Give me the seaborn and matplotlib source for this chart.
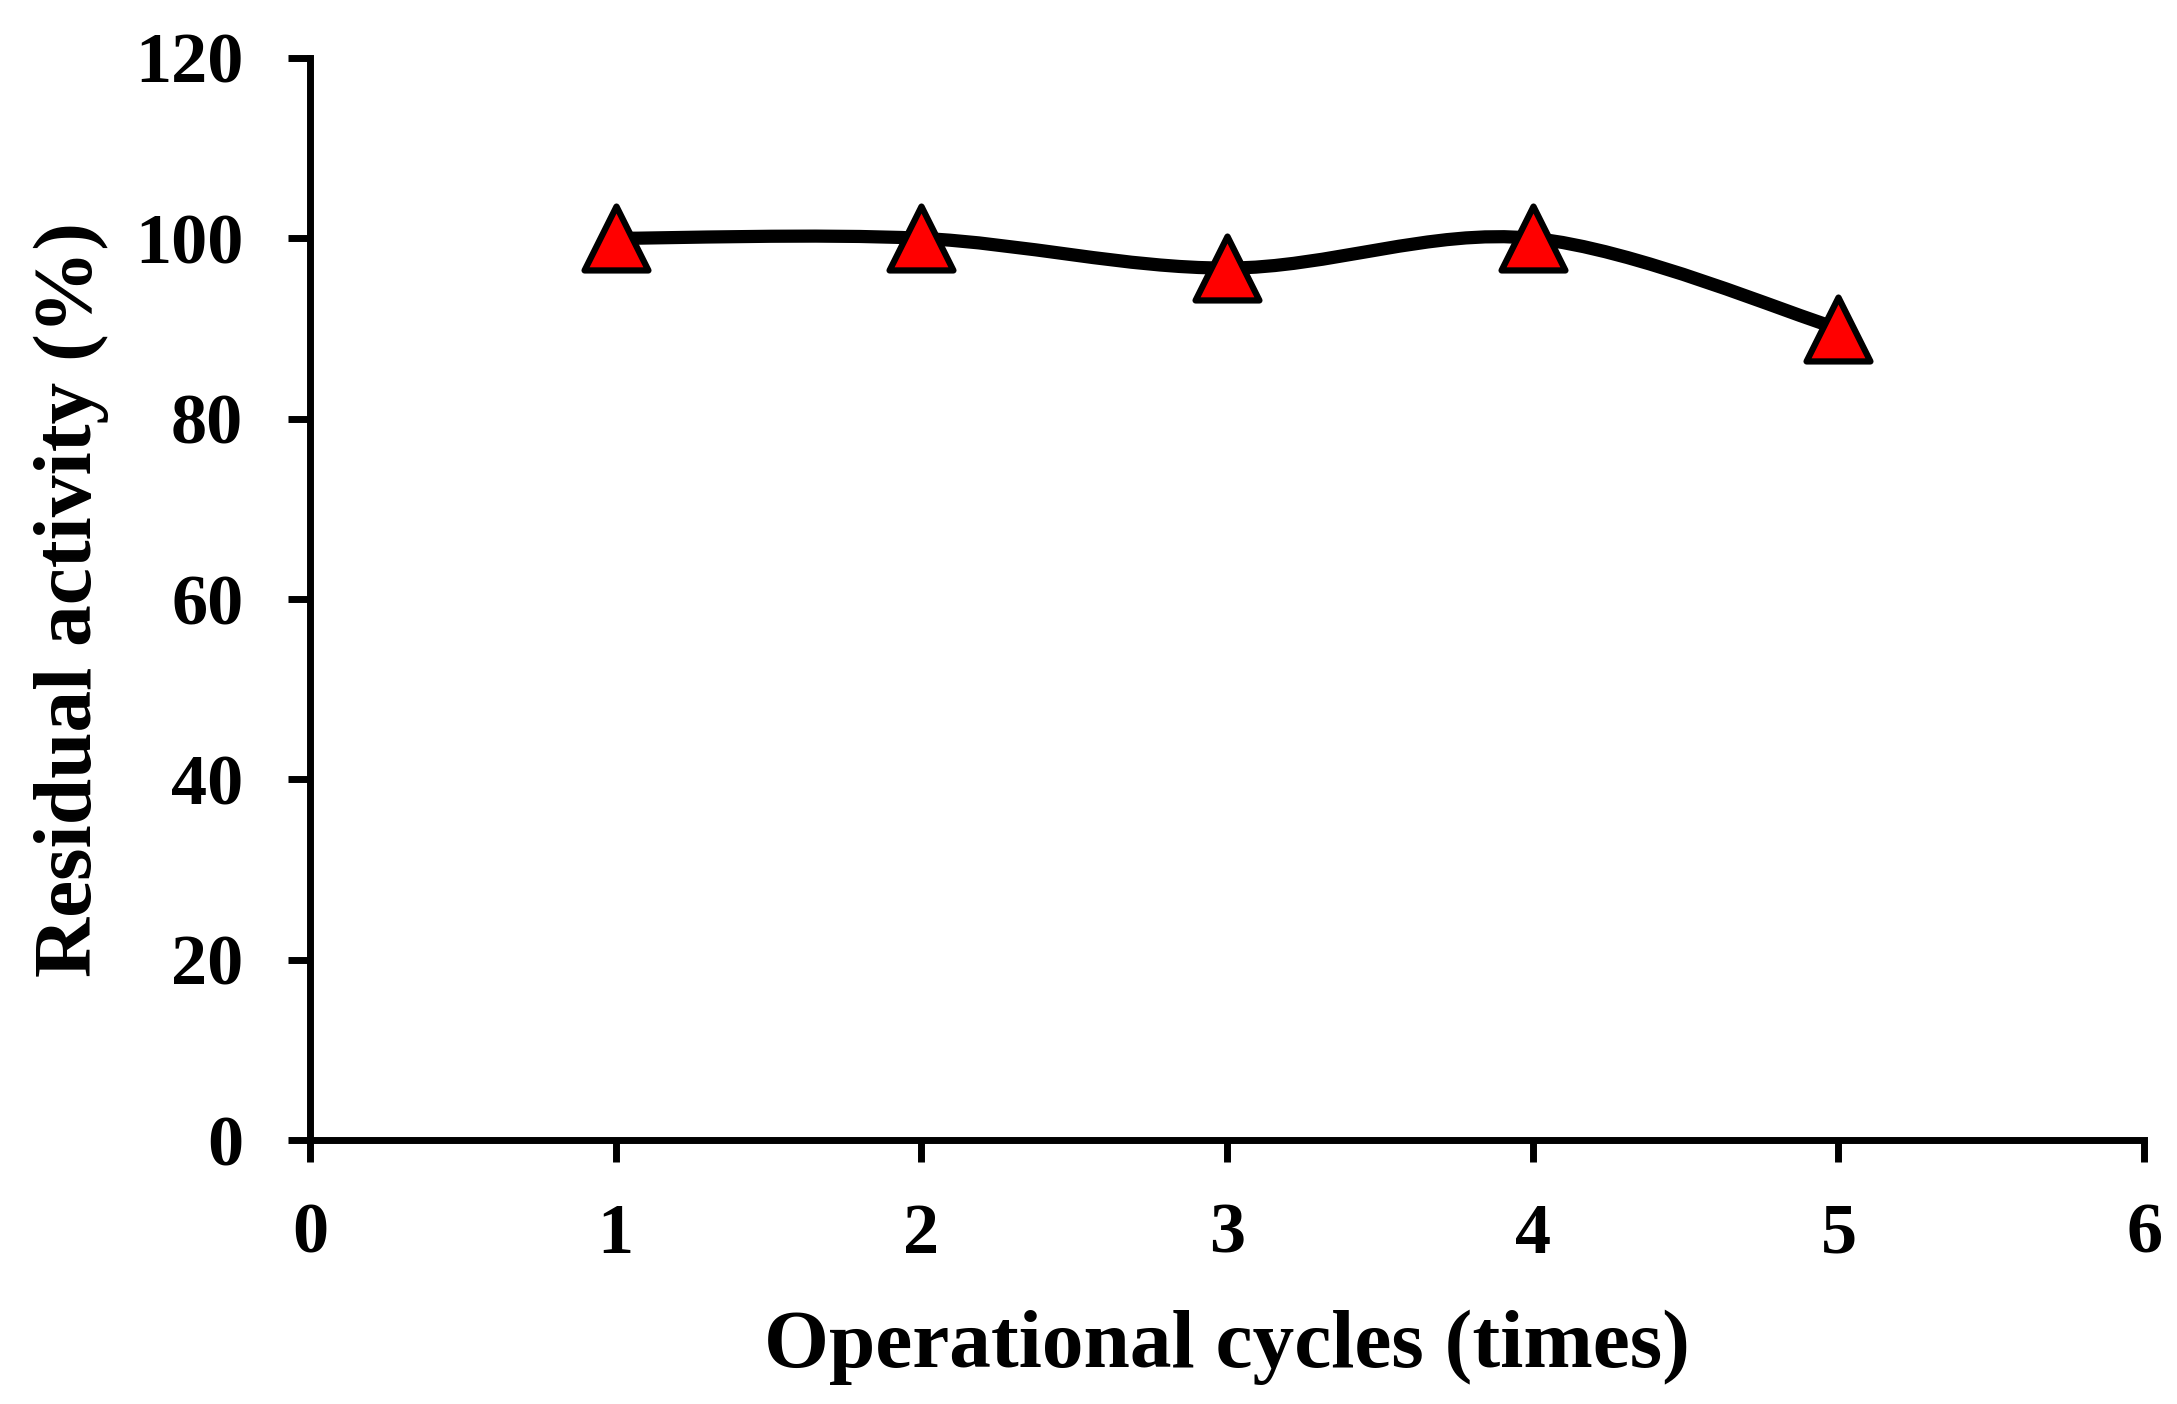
import numpy as np
import pandas as pd
import matplotlib
matplotlib.use("Agg")
import matplotlib.pyplot as plt
from matplotlib.path import Path
from matplotlib.patches import PathPatch
import seaborn as sns

# data
cycles = [1, 2, 3, 4, 5]
activity = [100, 100, 96.7, 100, 90]
x_ticks = [0, 1, 2, 3, 4, 5, 6]
y_ticks = [0, 20, 40, 60, 80, 100, 120]

df = pd.DataFrame({"cycle": cycles, "activity": activity})

sns.set_theme(style="white")
plt.rcParams['font.family'] = ['Liberation Serif', 'DejaVu Serif']
plt.rcParams['font.weight'] = 'bold'
plt.rcParams['text.color'] = 'black'
plt.rcParams['axes.labelcolor'] = 'black'

fig = plt.figure(figsize=(21.77, 14.04), dpi=100)
ax = fig.add_axes([0.1424, 0.188, 0.8425, 0.7707])

# smoothed line (Excel-style Bezier through the data points)
pts = df[["cycle", "activity"]].to_numpy(float)
padded = np.vstack([pts[0], pts, pts[-1]])
verts = [pts[0]]
codes = [Path.MOVETO]
for i in range(len(pts) - 1):
    p0, p1, p2, p3 = padded[i], padded[i + 1], padded[i + 2], padded[i + 3]
    verts += [p1 + (p2 - p0) / 6, p2 - (p3 - p1) / 6, p2]
    codes += [Path.CURVE4] * 3
ax.add_patch(PathPatch(Path(verts, codes), facecolor='none', edgecolor='black',
                       lw=9.5, capstyle='round', zorder=2))

# markers
sns.scatterplot(data=df, x="cycle", y="activity", marker='^', s=46 ** 2,
                color='#FF0000', edgecolor='black', linewidth=4.5, zorder=3, ax=ax)

ax.set_xlim(0, 6)
ax.set_ylim(0, 120)
ax.set_xticks(x_ticks)
ax.set_yticks(y_ticks)

for side in ['top', 'right']:
    ax.spines[side].set_visible(False)
for side in ['left', 'bottom']:
    ax.spines[side].set_color('black')
    ax.spines[side].set_linewidth(5)

ax.tick_params(axis='both', direction='out', length=16, width=5, color='black',
               labelsize=52, labelcolor='black')
ax.tick_params(axis='x', pad=29, bottom=True)
ax.tick_params(axis='y', pad=32, left=True)

ax.set_xlabel("Operational cycles (times)", fontsize=60, fontweight='bold',
              color='black', labelpad=30)
ax.set_ylabel("Residual activity (%)", fontsize=60, fontweight='bold', color='black')
ax.yaxis.set_label_coords(-0.1098, 0.5)

fig.savefig("out.png", dpi=100)
